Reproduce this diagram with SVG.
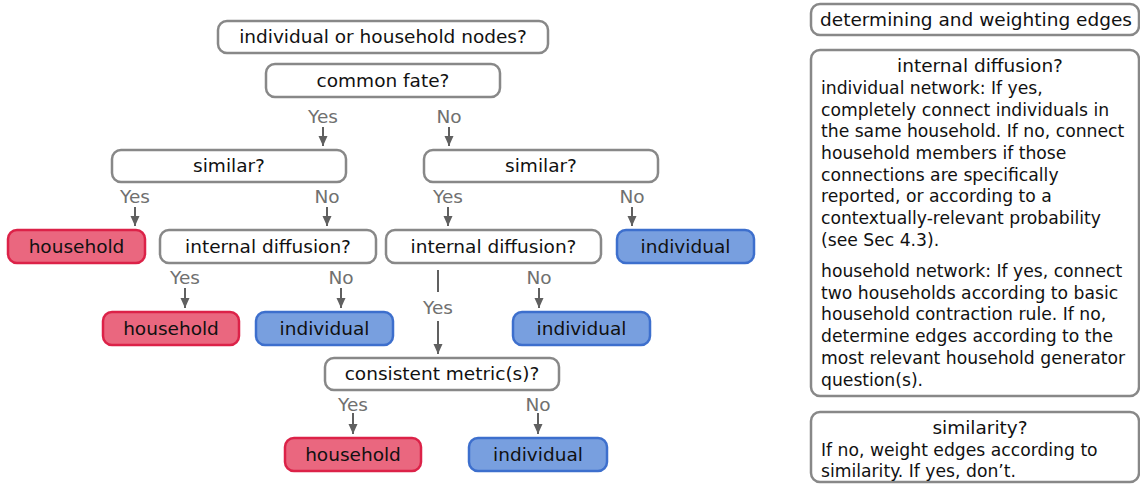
<svg xmlns="http://www.w3.org/2000/svg" width="1140" height="484" viewBox="0 0 1140 484">
<style>
text{font-family:"DejaVu Sans","Liberation Sans",sans-serif;font-size:18.5px;fill:#111}
.c{text-anchor:middle}
.b{font-size:17.2px}
.lab{fill:#707070;text-anchor:middle}
.q{fill:#fff;stroke:#888;stroke-width:2.5}
.hh{fill:#ea677f;stroke:#dc2248;stroke-width:2.5}
.ind{fill:#789fdf;stroke:#3d6fcd;stroke-width:2.5}
.pn{fill:#fff;stroke:#888;stroke-width:2.5}
.ln{stroke:#606060;stroke-width:2;fill:none}
</style>
<defs>
<marker id="ah" markerUnits="userSpaceOnUse" markerWidth="10" markerHeight="10" viewBox="0 0 10 10" refX="10" refY="5" orient="auto">
<path d="M0,0.5 L10,5 L0,9.5 z" fill="#606060"/>
</marker>
</defs>
<rect width="1140" height="484" fill="#fff"/>

<g id="n-top"><rect class="q" x="218" y="21" width="330" height="32" rx="9"/><text class="c" x="383" y="43">individual or household nodes?</text></g>
<g id="n-fate"><rect class="q" x="266" y="64" width="234" height="33" rx="9"/><text class="c" x="383" y="86.5">common fate?</text></g>
<g id="n-simL"><rect class="q" x="112" y="150" width="234" height="32" rx="9"/><text class="c" x="229" y="172">similar?</text></g>
<g id="n-simR"><rect class="q" x="424" y="150" width="234" height="32" rx="9"/><text class="c" x="541" y="172">similar?</text></g>
<g id="n-hh1"><rect class="hh" x="8" y="230" width="137" height="33" rx="9"/><text class="c" x="76.5" y="252.5">household</text></g>
<g id="n-idL"><rect class="q" x="160" y="230" width="216" height="33" rx="9"/><text class="c" x="268" y="252.5">internal diffusion?</text></g>
<g id="n-idR"><rect class="q" x="386" y="230" width="215" height="33" rx="9"/><text class="c" x="493.5" y="252.5">internal diffusion?</text></g>
<g id="n-ind1"><rect class="ind" x="617" y="230" width="137" height="33" rx="9"/><text class="c" x="685.5" y="252.5">individual</text></g>
<g id="n-hh2"><rect class="hh" x="103" y="312" width="136" height="33" rx="9"/><text class="c" x="171" y="335">household</text></g>
<g id="n-ind2"><rect class="ind" x="256" y="312" width="137" height="33" rx="9"/><text class="c" x="324.5" y="335">individual</text></g>
<g id="n-ind3"><rect class="ind" x="513" y="312" width="137" height="33" rx="9"/><text class="c" x="581.5" y="335">individual</text></g>
<g id="n-cons"><rect class="q" x="325" y="358" width="234" height="32" rx="9"/><text class="c" x="442" y="380">consistent metric(s)?</text></g>
<g id="n-hh3"><rect class="hh" x="285" y="438" width="136" height="33" rx="9"/><text class="c" x="353" y="460.5">household</text></g>
<g id="n-ind4"><rect class="ind" x="469" y="438" width="138" height="33" rx="9"/><text class="c" x="538" y="460.5">individual</text></g>

<g id="connectors">
<line class="ln" x1="323" y1="127" x2="323" y2="146" marker-end="url(#ah)"/>
<line class="ln" x1="449" y1="127" x2="449" y2="146" marker-end="url(#ah)"/>
<line class="ln" x1="135" y1="207" x2="135" y2="226" marker-end="url(#ah)"/>
<line class="ln" x1="327" y1="207" x2="327" y2="226" marker-end="url(#ah)"/>
<line class="ln" x1="448" y1="207" x2="448" y2="226" marker-end="url(#ah)"/>
<line class="ln" x1="632" y1="207" x2="632" y2="226" marker-end="url(#ah)"/>
<line class="ln" x1="185" y1="288" x2="185" y2="308" marker-end="url(#ah)"/>
<line class="ln" x1="341" y1="288" x2="341" y2="308" marker-end="url(#ah)"/>
<line class="ln" x1="539" y1="288" x2="539" y2="308" marker-end="url(#ah)"/>
<line class="ln" x1="438" y1="270" x2="438" y2="292"/>
<line class="ln" x1="438" y1="321" x2="438" y2="354" marker-end="url(#ah)"/>
<line class="ln" x1="353" y1="413" x2="353" y2="434" marker-end="url(#ah)"/>
<line class="ln" x1="538" y1="413" x2="538" y2="434" marker-end="url(#ah)"/>
<text class="lab" x="323" y="123">Yes</text>
<text class="lab" x="449" y="123">No</text>
<text class="lab" x="135" y="203">Yes</text>
<text class="lab" x="327" y="203">No</text>
<text class="lab" x="448" y="203">Yes</text>
<text class="lab" x="632" y="203">No</text>
<text class="lab" x="185" y="284">Yes</text>
<text class="lab" x="341" y="284">No</text>
<text class="lab" x="539" y="284">No</text>
<text class="lab" x="438" y="314">Yes</text>
<text class="lab" x="353" y="411">Yes</text>
<text class="lab" x="538" y="411">No</text>
</g>

<g id="legend-title"><rect class="pn" x="811" y="4" width="328" height="31" rx="9"/><text class="c" x="976" y="26">determining and weighting edges</text></g>
<g id="legend-diffusion"><rect class="pn" x="811" y="50" width="328" height="346" rx="9"/>
<text class="c" x="980" y="72">internal diffusion?</text>
<text class="b" x="821" y="94">individual network: If yes,</text>
<text class="b" x="821" y="115.5">completely connect individuals in</text>
<text class="b" x="821" y="137">the same household. If no, connect</text>
<text class="b" x="821" y="159">household members if those</text>
<text class="b" x="821" y="180.5">connections are specifically</text>
<text class="b" x="821" y="202">reported, or according to a</text>
<text class="b" x="821" y="224">contextually-relevant probability</text>
<text class="b" x="821" y="245.5">(see Sec 4.3).</text>
<text class="b" x="821" y="277">household network: If yes, connect</text>
<text class="b" x="821" y="298.7">two households according to basic</text>
<text class="b" x="821" y="320.4">household contraction rule. If no,</text>
<text class="b" x="821" y="342">determine edges according to the</text>
<text class="b" x="821" y="363.8">most relevant household generator</text>
<text class="b" x="821" y="385.5">question(s).</text>
</g>
<g id="legend-similarity"><rect class="pn" x="811" y="412" width="328" height="70" rx="9"/>
<text class="c" x="980" y="434">similarity?</text>
<text class="b" x="821" y="455.7">If no, weight edges according to</text>
<text class="b" x="821" y="477">similarity. If yes, don’t.</text>
</g>
</svg>
